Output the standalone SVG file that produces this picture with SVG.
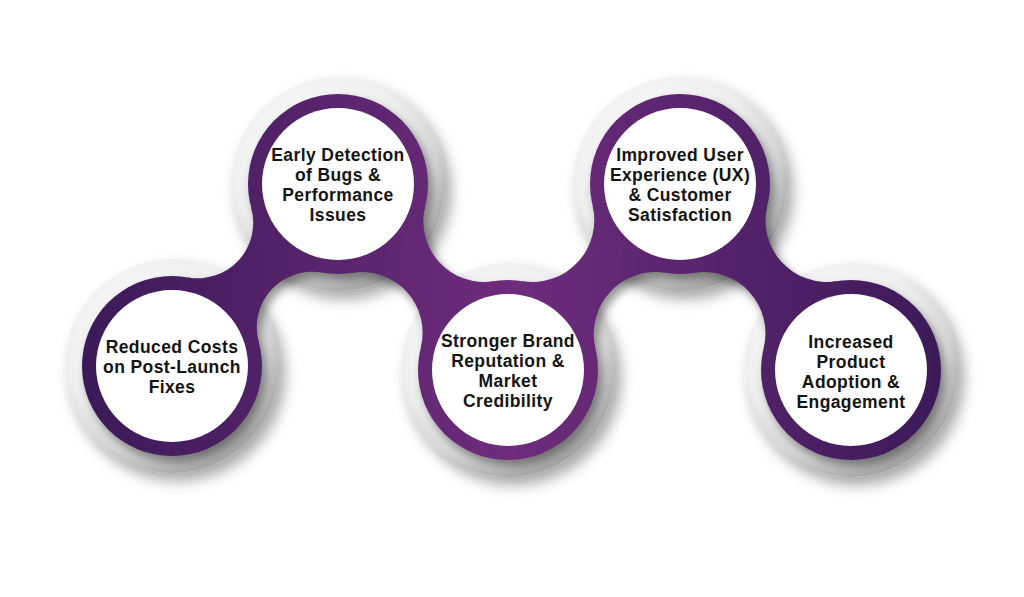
<svg xmlns="http://www.w3.org/2000/svg" xmlns:xlink="http://www.w3.org/1999/xlink" width="1024" height="597" viewBox="0 0 1024 597">
  <defs>
    <style>
      .disc { fill: url(#greyGrad); }
      .ring { fill: url(#purpleGrad); }
      .neck { fill: url(#purpleGrad); }
      .inner { fill: #ffffff; }
      .label { font-family: "Liberation Sans", Arial, sans-serif; font-weight: 700; font-size: 17.5px; letter-spacing: 0.4px; fill: #141414; text-anchor: middle; }
    </style>
    <linearGradient id="purpleGrad" gradientUnits="userSpaceOnUse" x1="80" y1="0" x2="945" y2="0">
      <stop offset="0" stop-color="#3b1a58"/>
      <stop offset="0.5" stop-color="#6e2c7c"/>
      <stop offset="1" stop-color="#3b1a58"/>
    </linearGradient>
    <radialGradient id="greyGrad" cx="0.4" cy="0.36" r="0.66">
      <stop offset="0" stop-color="#ffffff"/>
      <stop offset="0.66" stop-color="#eeeeee"/>
      <stop offset="0.84" stop-color="#d5d5d5"/>
      <stop offset="1" stop-color="#a6a6a6"/>
    </radialGradient>
    <filter id="discShadow" x="-30%" y="-30%" width="170%" height="170%">
      <feGaussianBlur in="SourceAlpha" stdDeviation="7"/>
      <feOffset dx="6" dy="8" result="b"/>
      <feFlood flood-color="#000" flood-opacity="0.34"/>
      <feComposite in2="b" operator="in" result="s"/>
      <feMerge><feMergeNode in="s"/><feMergeNode in="SourceGraphic"/></feMerge>
    </filter>
    <filter id="purpleShadow" x="-20%" y="-20%" width="150%" height="150%">
      <feGaussianBlur in="SourceAlpha" stdDeviation="5"/>
      <feOffset dx="4" dy="6" result="b"/>
      <feFlood flood-color="#000" flood-opacity="0.42"/>
      <feComposite in2="b" operator="in"/>
    </filter>
  </defs>

  <rect width="1024" height="597" fill="#ffffff"/>

  <!-- grey backing discs -->
  <g id="discs" filter="url(#discShadow)">
    <circle class="disc" cx="172" cy="366" r="107"/>
    <circle class="disc" cx="338" cy="184" r="107"/>
    <circle class="disc" cx="508" cy="370" r="107"/>
    <circle class="disc" cx="680" cy="184" r="107"/>
    <circle class="disc" cx="851" cy="370" r="107"/>
  </g>

  <!-- shadow of the purple band -->
  <g id="bandShadow" filter="url(#purpleShadow)">
    <use href="#connectors"/>
    <circle cx="172" cy="366" r="90"/>
    <circle cx="338" cy="184" r="90"/>
    <circle cx="508" cy="370" r="90"/>
    <circle cx="680" cy="184" r="90"/>
    <circle cx="851" cy="370" r="90"/>
  </g>

  <g id="connectors">
    <path class="neck" d="M258.75,342.05 A55.55,55.55 0 0 1 322.10,272.58 L338,184 L251.25,207.95 A55.55,55.55 0 0 1 187.90,277.42 L172,366 Z"/>
    <path class="neck" d="M425.21,206.21 A60.72,60.72 0 0 0 493.71,281.14 L508,370 L420.79,347.79 A60.72,60.72 0 0 0 352.29,272.86 L338,184 Z"/>
    <path class="neck" d="M595.44,348.69 A61.98,61.98 0 0 1 665.59,272.84 L680,184 L592.56,205.31 A61.98,61.98 0 0 1 522.41,281.16 L508,370 Z"/>
    <path class="neck" d="M767.32,205.76 A61.35,61.35 0 0 0 836.65,281.16 L851,370 L763.68,348.24 A61.35,61.35 0 0 0 694.35,272.84 L680,184 Z"/>
  </g>

  <g id="node1">
    <circle class="ring" cx="172" cy="366" r="90"/>
    <circle class="inner" cx="172" cy="366" r="76"/>
    <text class="label" x="172" y="352.5">Reduced Costs</text>
    <text class="label" x="172" y="372.5">on Post-Launch</text>
    <text class="label" x="172" y="392.5">Fixes</text>
  </g>

  <g id="node2">
    <circle class="ring" cx="338" cy="184" r="90"/>
    <circle class="inner" cx="338" cy="184" r="76"/>
    <text class="label" x="338" y="160.5">Early Detection</text>
    <text class="label" x="338" y="180.5">of Bugs &amp;</text>
    <text class="label" x="338" y="200.5">Performance</text>
    <text class="label" x="338" y="220.5">Issues</text>
  </g>

  <g id="node3">
    <circle class="ring" cx="508" cy="370" r="90"/>
    <circle class="inner" cx="508" cy="370" r="76"/>
    <text class="label" x="508" y="346.5">Stronger Brand</text>
    <text class="label" x="508" y="366.5">Reputation &amp;</text>
    <text class="label" x="508" y="386.5">Market</text>
    <text class="label" x="508" y="406.5">Credibility</text>
  </g>

  <g id="node4">
    <circle class="ring" cx="680" cy="184" r="90"/>
    <circle class="inner" cx="680" cy="184" r="76"/>
    <text class="label" x="680" y="160.5">Improved User</text>
    <text class="label" x="680" y="180.5">Experience (UX)</text>
    <text class="label" x="680" y="200.5">&amp; Customer</text>
    <text class="label" x="680" y="220.5">Satisfaction</text>
  </g>

  <g id="node5">
    <circle class="ring" cx="851" cy="370" r="90"/>
    <circle class="inner" cx="851" cy="370" r="76"/>
    <text class="label" x="851" y="347.5">Increased</text>
    <text class="label" x="851" y="367.5">Product</text>
    <text class="label" x="851" y="387.5">Adoption &amp;</text>
    <text class="label" x="851" y="407.5">Engagement</text>
  </g>
</svg>
